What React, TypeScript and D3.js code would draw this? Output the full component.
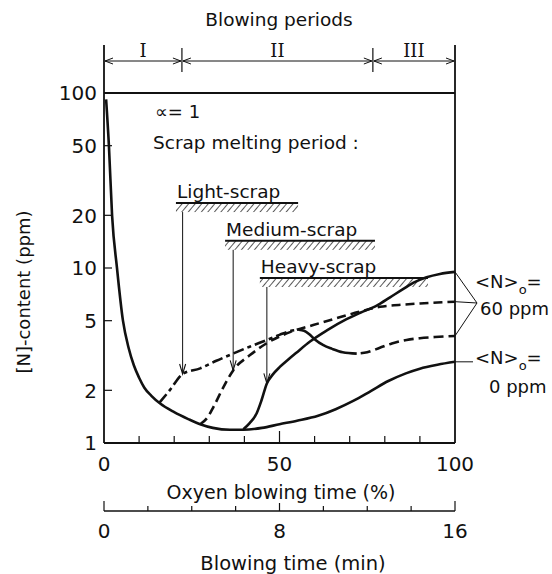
import React from "react";
import * as d3 from "d3";

// ---------- data ----------
const yTicks = [1, 2, 5, 10, 20, 50, 100];
const yTickMarks = [2, 5, 10, 20, 50];
const xTicks = [0, 10, 20, 30, 40, 50, 60, 70, 80, 90, 100];
const xTickLabels = [0, 50, 100];
const timeTicks = [0, 2, 4, 6, 8, 10, 12, 14, 16];
const timeTickLabels = [0, 8, 16];
const periodBounds = [0, 22.2, 76.6, 100];
const periodNames = ["I", "II", "III"];

// <N>o = 0 ppm (solid)
const mainX = [0.6, 1.4, 2.3, 3.7, 5.4, 7, 8.5, 10, 11.5, 13.5, 16, 20, 24, 27.4, 31, 35.9, 39.7, 45, 50, 55, 61, 66, 71, 76, 81, 86, 90, 95, 100];
const mainV = [92, 50, 20, 10, 5, 3.5, 2.78, 2.36, 2.07, 1.86, 1.68, 1.5, 1.37, 1.28, 1.22, 1.19, 1.19, 1.22, 1.28, 1.34, 1.43, 1.56, 1.74, 1.98, 2.26, 2.5, 2.66, 2.8, 2.91];

// Light scrap (60 ppm): rising part (dash-dot), falling part (solid), final part (dashed)
const lightRiseX = [15.8, 18.8, 22.4, 27.4, 32, 36.9, 41.5, 46.4, 50, 53, 55.5];
const lightRiseV = [1.7, 2.01, 2.48, 2.67, 2.95, 3.25, 3.55, 3.88, 4.15, 4.36, 4.44];
const lightFallX = [55.5, 57, 58.5, 60, 62.5, 65, 68, 72];
const lightFallV = [4.44, 4.38, 4.18, 3.92, 3.62, 3.45, 3.3, 3.24];
const lightEndX = [72, 75, 78.6, 82, 86.2, 90, 94.3, 100];
const lightEndV = [3.24, 3.3, 3.5, 3.7, 3.88, 3.97, 4.03, 4.09];

// Medium scrap (60 ppm, dashed)
const mediumX = [27.4, 29.5, 31.2, 34.1, 36.8, 41.6, 46.4, 53, 59.6, 66, 72.9, 78.6, 84, 90, 95, 100];
const mediumV = [1.28, 1.4, 1.61, 2.1, 2.6, 3.18, 3.72, 4.3, 4.72, 5.15, 5.63, 6.0, 6.15, 6.27, 6.35, 6.42];

// Heavy scrap (60 ppm, solid)
const heavyX = [39.7, 41.5, 43.5, 44.9, 46.4, 48, 50.1, 52.5, 54.8, 58.7, 63.5, 69.1, 73, 77.7, 81.5, 85.3, 88.5, 91.9, 95.7, 100];
const heavyV = [1.2, 1.3, 1.48, 1.76, 2.19, 2.45, 2.72, 3.0, 3.28, 3.8, 4.4, 5.1, 5.55, 6.1, 6.8, 7.6, 8.3, 8.85, 9.25, 9.5];

// scrap melting periods
const scrapNames = ["Light-scrap", "Medium-scrap", "Heavy-scrap"];
const scrapStart = [20.5, 34.5, 44.4];
const scrapEnd = [55.3, 77.2, 92.3];
const scrapLevel = [23.5, 14.3, 8.77];
const scrapArrowX = [22.4, 36.8, 46.4];
const scrapArrowTip = [2.48, 2.6, 2.19];

const endLabels60 = [9.5, 6.42, 4.09];
const endLabel0 = 2.91;

// ---------- layout ----------
const W = 552;
const H = 574;
const X0 = 104;
const X1 = 455;
const YB = 443;
const YT = 93;
const FONT = "DejaVu Sans, sans-serif";

export default function App() {
  const xs = d3.scaleLinear().domain([0, 100]).range([X0, X1]);
  const ts = d3.scaleLinear().domain([0, 16]).range([X0, X1]);
  const ys = d3.scaleLog().domain([1, 100]).range([YB, YT]);

  const line = d3
    .line<[number, number]>()
    .x((d) => xs(d[0]))
    .y((d) => ys(d[1]))
    .curve(d3.curveMonotoneX);
  const zip = (a: number[], b: number[]) => a.map((v, i) => [v, b[i]] as [number, number]);

  const curveW = 2.6;
  const ink = "#111";

  const arrowHead = (x: number, y: number, dir: "l" | "r" | "d", len = 8, half = 3) => {
    if (dir === "l") return `M${x + len},${y - half}L${x},${y}L${x + len},${y + half}`;
    if (dir === "r") return `M${x - len},${y - half}L${x},${y}L${x - len},${y + half}`;
    return `M${x - half},${y - len}L${x},${y}L${x + half},${y - len}`;
  };

  const periodY = 61;
  const axis2Y = 511;

  return (
    <svg
      width={W}
      height={H}
      style={{ position: "absolute", left: 0, top: 0, background: "#fff" }}
      fontFamily={FONT}
    >
      <defs>
        <pattern id="hatch" patternUnits="userSpaceOnUse" width="5" height="5" patternTransform="rotate(40)">
          <line x1="0" y1="0" x2="0" y2="5" stroke={ink} strokeWidth="1.4" />
        </pattern>
      </defs>

      {/* title */}
      <text x={279} y={26} textAnchor="middle" fontSize={18.5} fill={ink}>
        Blowing periods
      </text>

      {/* period arrows */}
      <line x1={X0} y1={45} x2={X0} y2={YB} stroke={ink} strokeWidth={1.8} />
      <line x1={X1} y1={45} x2={X1} y2={YB} stroke={ink} strokeWidth={1.8} />
      {periodBounds.slice(1, 3).map((p, i) => (
        <line key={"pd" + i} x1={xs(p)} y1={48} x2={xs(p)} y2={72} stroke={ink} strokeWidth={1.2} />
      ))}
      {periodNames.map((n, i) => {
        const a = xs(periodBounds[i]);
        const b = xs(periodBounds[i + 1]);
        return (
          <g key={"per" + i}>
            <line x1={a + 1} y1={periodY} x2={b - 1} y2={periodY} stroke={ink} strokeWidth={1} />
            <path d={arrowHead(a + 1, periodY, "l")} fill="none" stroke={ink} strokeWidth={1} />
            <path d={arrowHead(b - 1, periodY, "r")} fill="none" stroke={ink} strokeWidth={1} />
            <text
              x={(a + b) / 2}
              y={57}
              textAnchor="middle"
              fontSize={18}
              fontFamily="DejaVu Serif, serif"
              fill={ink}
            >
              {n}
            </text>
          </g>
        );
      })}

      {/* frame */}
      <line x1={X0} y1={YT} x2={X1} y2={YT} stroke={ink} strokeWidth={1.8} />
      <line x1={X0} y1={YB} x2={X1} y2={YB} stroke={ink} strokeWidth={1.8} />

      {/* y ticks */}
      {yTickMarks.map((t) => (
        <line key={"yt" + t} x1={X0} y1={ys(t)} x2={X0 + 8} y2={ys(t)} stroke={ink} strokeWidth={1.2} />
      ))}
      {yTicks.map((t) => (
        <text key={"yl" + t} x={X0 - 7} y={ys(t)} dy="0.36em" textAnchor="end" fontSize={20} fill={ink}>
          {t}
        </text>
      ))}
      <text
        transform={`translate(24,292) rotate(-90)`}
        textAnchor="middle"
        dy="0.35em"
        fontSize={18}
        fill={ink}
      >
        [N]-content (ppm)
      </text>

      {/* x ticks */}
      {xTicks.map((t) => (
        <line
          key={"xt" + t}
          x1={xs(t)}
          y1={YB}
          x2={xs(t)}
          y2={YB - (t === 50 ? 12 : t === 0 || t === 100 ? 0 : 7)}
          stroke={ink}
          strokeWidth={1.2}
        />
      ))}
      {xTickLabels.map((t) => (
        <text key={"xl" + t} x={xs(t)} y={464} dy="0.36em" textAnchor="middle" fontSize={20} fill={ink}>
          {t}
        </text>
      ))}
      <text x={281} y={492} dy="0.36em" textAnchor="middle" fontSize={19} fill={ink}>
        Oxyen blowing time (%)
      </text>

      {/* second axis: blowing time */}
      <line x1={X0} y1={axis2Y} x2={X1} y2={axis2Y} stroke={ink} strokeWidth={1.3} />
      {timeTicks.map((t) => (
        <line
          key={"tt" + t}
          x1={ts(t)}
          y1={axis2Y}
          x2={ts(t)}
          y2={axis2Y - (t === 0 || t === 16 ? 10 : t === 8 ? 8 : 5)}
          stroke={ink}
          strokeWidth={1.2}
        />
      ))}
      {timeTickLabels.map((t) => (
        <text key={"tl" + t} x={ts(t)} y={531} dy="0.36em" textAnchor="middle" fontSize={20} fill={ink}>
          {t}
        </text>
      ))}
      <text x={293} y={563} dy="0.36em" textAnchor="middle" fontSize={19.5} fill={ink}>
        Blowing time (min)
      </text>

      {/* annotations */}
      <text x={155} y={112} dy="0.36em" fontSize={18} fill={ink}>
        ∝= 1
      </text>
      <text x={153} y={142} dy="0.36em" fontSize={18.5} fill={ink}>
        Scrap melting period :
      </text>

      {/* scrap bars */}
      {scrapNames.map((n, i) => {
        const xa = xs(scrapStart[i]);
        const xb = xs(scrapEnd[i]);
        const yt = ys(scrapLevel[i]);
        const ax = xs(scrapArrowX[i]);
        const tip = ys(scrapArrowTip[i]);
        return (
          <g key={"sc" + i}>
            <text x={xa + 1} y={yt - 5} fontSize={18.5} fill={ink}>
              {n}
            </text>
            <rect x={xa} y={yt} width={xb - xa} height={9} fill="url(#hatch)" />
            <line x1={xa} y1={yt} x2={xb} y2={yt} stroke={ink} strokeWidth={2} />
            <line x1={ax} y1={yt + 9} x2={ax} y2={tip} stroke={ink} strokeWidth={1} />
            <path d={arrowHead(ax, tip, "d", 10, 3)} fill="none" stroke={ink} strokeWidth={1.1} />
          </g>
        );
      })}

      {/* curves */}
      <path d={line(zip(mainX, mainV)) || ""} fill="none" stroke={ink} strokeWidth={curveW} />
      <path
        d={line(zip(lightRiseX, lightRiseV)) || ""}
        fill="none"
        stroke={ink}
        strokeWidth={curveW}
        strokeDasharray="11,4,4,4"
      />
      <path d={line(zip(lightFallX, lightFallV)) || ""} fill="none" stroke={ink} strokeWidth={curveW} />
      <path
        d={line(zip(lightEndX, lightEndV)) || ""}
        fill="none"
        stroke={ink}
        strokeWidth={curveW}
        strokeDasharray="10,5"
        strokeDashoffset={-4}
      />
      <path
        d={line(zip(mediumX, mediumV)) || ""}
        fill="none"
        stroke={ink}
        strokeWidth={curveW}
        strokeDasharray="9,5"
      />
      <path d={line(zip(heavyX, heavyV)) || ""} fill="none" stroke={ink} strokeWidth={curveW} />

      {/* right labels */}
      {endLabels60.map((v, i) => (
        <line key={"ld" + i} x1={X1} y1={ys(v)} x2={477} y2={303} stroke={ink} strokeWidth={1} />
      ))}
      <text x={475} y={282} dy="0.36em" fontSize={18} fill={ink}>
        {"<N>"}
        <tspan fontSize={13} dy="6">o</tspan>
        <tspan dy="-6">=</tspan>
      </text>
      <text x={480} y={309} dy="0.36em" fontSize={18} fill={ink}>
        60 ppm
      </text>
      <line x1={X1} y1={ys(endLabel0)} x2={473} y2={ys(endLabel0)} stroke={ink} strokeWidth={1} />
      <text x={475} y={358} dy="0.36em" fontSize={18} fill={ink}>
        {"<N>"}
        <tspan fontSize={13} dy="6">o</tspan>
        <tspan dy="-6">=</tspan>
      </text>
      <text x={489} y={387} dy="0.36em" fontSize={18} fill={ink}>
        0 ppm
      </text>
    </svg>
  );
}
